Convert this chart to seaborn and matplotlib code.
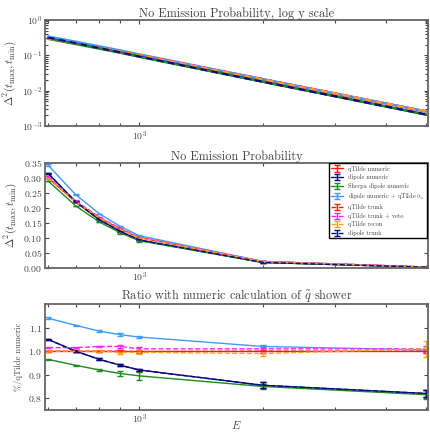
import matplotlib
matplotlib.use("Agg")
import matplotlib.pyplot as plt
import numpy as np
import pandas as pd
import seaborn as sns

# energies and reference (qTilde numeric) no-emission probability
E = [600, 700, 800, 900, 1000, 2000, 5000]
qtilde_numeric = [0.300, 0.220, 0.166, 0.129, 0.101, 0.021, 0.0026]

# ratios to qTilde numeric, and their errors
r_qtilde_numeric = [1.0, 1.0, 1.0, 1.0, 1.0, 1.0, 1.0]
r_dipole_numeric = [1.05, 1.0, 0.965, 0.94, 0.92, 0.855, 0.82]
r_sherpa = [0.965, 0.94, 0.92, 0.905, 0.895, 0.85, 0.815]
r_dipole_alphas = [1.14, 1.11, 1.085, 1.07, 1.06, 1.02, 1.005]
r_qtilde_trunk = [1.0, 1.0, 1.0, 1.0, 0.998, 1.0, 1.0]
r_qtilde_veto = [1.015, 1.015, 1.02, 1.02, 1.01, 1.01, 1.01]
r_qtilde_recon = [1.0, 1.0, 1.0, 0.995, 0.995, 0.99, 1.01]
r_dipole_trunk = [1.05, 1.0, 0.965, 0.94, 0.92, 0.855, 0.82]

e_small = [0.002, 0.002, 0.002, 0.003, 0.004, 0.006, 0.008]
e_dipole = [0.003, 0.003, 0.004, 0.005, 0.006, 0.012, 0.015]
e_sherpa = [0.002, 0.002, 0.003, 0.012, 0.018, 0.01, 0.02]
e_alphas = [0.005, 0.003, 0.003, 0.006, 0.004, 0.005, 0.008]
e_recon = [0.003, 0.003, 0.004, 0.005, 0.008, 0.012, 0.035]
e_veto = [0.003, 0.003, 0.004, 0.005, 0.008, 0.008, 0.012]

labels = ["qTilde numeric", "dipole numeric", "Sherpa dipole numeric",
          r"dipole numeric + qTilde $\alpha_s$", "qTilde trunk",
          "qTilde trunk + veto", "qTilde recon", "dipole trunk"]
colors = ["#ff1a1a", "#0a0a80", "#1f8a1f", "#3d9df5", "#ff1a1a",
          "#ff22ff", "#ffa020", "#0a0a80"]
styles = ["-", "-", "-", "-", "--", "--", "--", "--"]
ratios = [r_qtilde_numeric, r_dipole_numeric, r_sherpa, r_dipole_alphas,
          r_qtilde_trunk, r_qtilde_veto, r_qtilde_recon, r_dipole_trunk]
errors = [e_small, e_dipole, e_sherpa, e_alphas, e_small, e_veto, e_recon, e_dipole]

sns.set_theme(style="ticks")
TXT = "#444444"
plt.rcParams.update({
    "font.family": "serif",
    "font.serif": ["cmr10", "DejaVu Serif"],
    "mathtext.fontset": "cm",
    "axes.unicode_minus": False,
    "axes.formatter.use_mathtext": True,
    "text.color": TXT,
    "axes.labelcolor": TXT,
    "xtick.color": TXT,
    "ytick.color": TXT,
    "axes.edgecolor": "#666666",
    "axes.linewidth": 1.3,
    "xtick.direction": "in",
    "ytick.direction": "in",
    "xtick.top": True,
    "ytick.right": True,
})

fig = plt.figure(figsize=(4.3, 4.32), dpi=100)
ax1 = fig.add_axes([0.105, 0.708, 0.89, 0.246])
ax2 = fig.add_axes([0.105, 0.380, 0.89, 0.243])
ax3 = fig.add_axes([0.105, 0.051, 0.89, 0.245])

base = np.array(qtilde_numeric)
rows = []
for lab, r in zip(labels, ratios):
    for e, v in zip(E, base * np.array(r)):
        rows.append({"E": e, "P": v, "series": lab})
df = pd.DataFrame(rows)

# top: log y
sns.lineplot(data=df, x="E", y="P", hue="series", style="series",
             palette=dict(zip(labels, colors)),
             dashes=dict(zip(labels, [(None, None) if s == "-" else (3, 2) for s in styles])),
             linewidth=1.6, legend=False, ax=ax1)
ax1.set_yscale("log")
ax1.set_ylim(1e-3, 1)
ax1.set_title("No Emission Probability, log y scale", fontsize=8.8, pad=2)

# middle and bottom: errorbars
for lab, col, ls, r, err in zip(labels, colors, styles, ratios, errors):
    r = np.array(r)
    err = np.array(err)
    ax2.errorbar(E, base * r, yerr=base * err * 2, color=col, ls=ls, lw=1.0,
                 capsize=2, capthick=1, elinewidth=1, label=lab)
    ax3.errorbar(E, r, yerr=err, color=col, ls=ls, lw=1.0,
                 capsize=2, capthick=1, elinewidth=1, label=lab)

ax2.set_ylim(0, 0.35)
ax2.set_yticks(np.arange(0, 0.351, 0.05))
ax2.set_title("No Emission Probability", fontsize=8.8, pad=2)
leg = ax2.legend(loc="upper right", fontsize=4.5, frameon=True, fancybox=False,
                 edgecolor="black", framealpha=1, borderaxespad=0.1,
                 handlelength=2.0, labelspacing=0.42, borderpad=0.35)
leg.get_frame().set_linewidth(1.0)
for t in leg.get_texts():
    t.set_color(TXT)

ax3.set_ylim(0.75, 1.2)
ax3.set_yticks([0.8, 0.9, 1.0, 1.1])
ax3.set_title(r"Ratio with numeric calculation of $\tilde{q}$ shower", fontsize=8.8, pad=2)
ax3.set_ylabel("%/qTilde numeric", fontsize=6.2, labelpad=4)
ax3.set_xlabel(r"$E$", fontsize=8, labelpad=-5)

for ax in (ax1, ax2, ax3):
    ax.set_xscale("log")
    ax.set_xlim(590, 5050)
    ax.tick_params(which="both", labelsize=7, length=3, width=0.8, pad=2)
    ax.tick_params(which="minor", length=2)
    ax.xaxis.set_minor_formatter(matplotlib.ticker.NullFormatter())
ax1.set_xlabel("")
ax2.set_xlabel("")
ax1.set_ylabel(r"$\Delta^2(t_{\max},t_{\min})$", fontsize=8, labelpad=3)
ax2.set_ylabel(r"$\Delta^2(t_{\max},t_{\min})$", fontsize=8, labelpad=3)

fig.savefig("out.png", dpi=100)
